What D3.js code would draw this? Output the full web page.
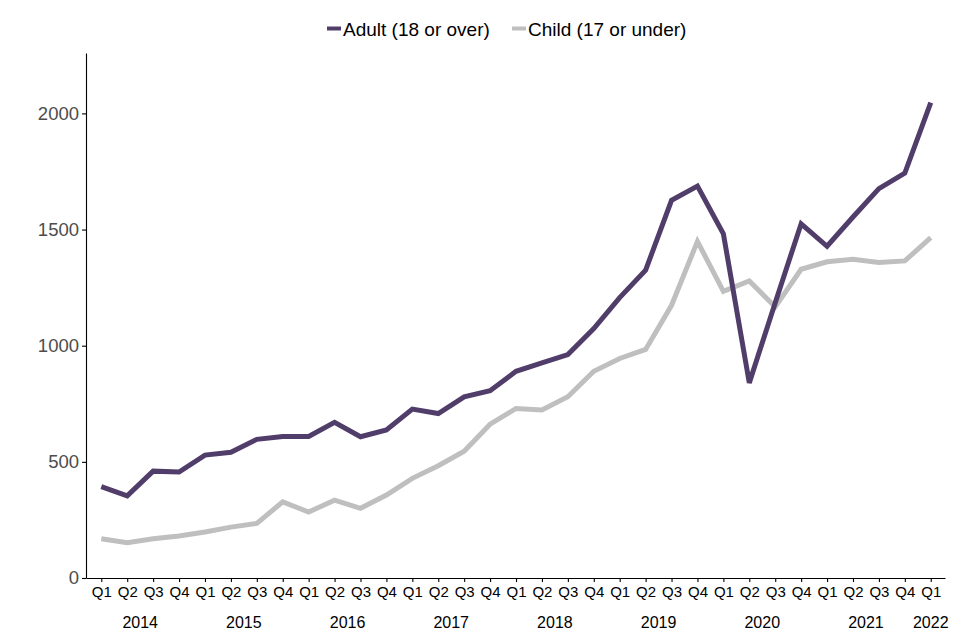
<!DOCTYPE html>
<html>
<head>
<meta charset="utf-8">
<script src="https://cdn.jsdelivr.net/npm/d3@7"></script>
<style>
  body { margin: 0; background: #fff; }
  svg { font-family: "Liberation Sans", Arial, sans-serif; }
</style>
</head>
<body>
<svg id="chart" width="960" height="640"></svg>
<script>
// quarters Q1 2014 .. Q1 2022
var quarters = ["Q1","Q2","Q3","Q4","Q1","Q2","Q3","Q4","Q1","Q2","Q3","Q4",
                "Q1","Q2","Q3","Q4","Q1","Q2","Q3","Q4","Q1","Q2","Q3","Q4",
                "Q1","Q2","Q3","Q4","Q1","Q2","Q3","Q4","Q1"];
var years = ["2014","2015","2016","2017","2018","2019","2020","2021","2022"];

var adult = [393, 354, 460, 456, 529, 541, 597, 609, 609, 670, 608, 637,
             727, 708, 780, 806, 890, 926, 962, 1074, 1207, 1325, 1626, 1687,
             1482, 840, 1185, 1525, 1428, 1554, 1676, 1743, 2046];
var child = [169, 152, 169, 181, 198, 219, 235, 328, 284, 335, 300, 357,
             429, 483, 546, 662, 730, 723, 780, 890, 945, 984, 1174, 1449,
             1234, 1279, 1167, 1329, 1361, 1372, 1358, 1365, 1465];

var yTicks = [0, 500, 1000, 1500, 2000];

var svg = d3.select("#chart");

var x = d3.scaleLinear().domain([-0.59, 32.55]).range([86, 945]);
var y = d3.scaleLinear().domain([0, 2260]).range([578, 53]);

// y axis
var yAxis = svg.append("g")
    .attr("transform", "translate(86,0)")
    .call(d3.axisLeft(y).tickValues(yTicks).tickFormat(d3.format("d"))
        .tickSize(4).tickSizeOuter(0).tickPadding(3));
yAxis.selectAll("text").attr("font-size", 18.5).attr("fill", "#4d4d4d")
    .style("font-family", "'Liberation Sans', Arial, sans-serif");
yAxis.selectAll("line, path").attr("stroke", "#000").attr("stroke-width", 1.1);

// x axis
var xAxis = svg.append("g")
    .attr("transform", "translate(0,578)")
    .call(d3.axisBottom(x).tickValues(d3.range(quarters.length))
        .tickFormat(function (d) { return quarters[d]; })
        .tickSize(4).tickSizeOuter(0).tickPadding(4));
xAxis.selectAll("text").attr("font-size", 15).attr("fill", "#000")
    .style("font-family", "'Liberation Sans', Arial, sans-serif");
xAxis.selectAll("line, path").attr("stroke", "#000").attr("stroke-width", 1.1);

// year labels, centred under their four quarters
svg.append("g").selectAll("text")
    .data(years)
    .join("text")
    .attr("x", function (d, i) {
        var first = i * 4, last = Math.min(i * 4 + 3, quarters.length - 1);
        return (x(first) + x(last)) / 2;
    })
    .attr("y", 628)
    .attr("text-anchor", "middle")
    .attr("font-size", 16)
    .attr("fill", "#000")
    .text(function (d) { return d; });

var line = d3.line()
    .x(function (d, i) { return x(i); })
    .y(function (d) { return y(d); });

svg.append("path").datum(child)
    .attr("d", line).attr("fill", "none")
    .attr("stroke", "#bfbfbf").attr("stroke-width", 5)
    .attr("stroke-linejoin", "miter");

svg.append("path").datum(adult)
    .attr("d", line).attr("fill", "none")
    .attr("stroke", "#503d6a").attr("stroke-width", 5)
    .attr("stroke-linejoin", "miter");

// legend
var legend = [
    { name: "Adult (18 or over)", color: "#503d6a", x: 327 },
    { name: "Child (17 or under)", color: "#bfbfbf", x: 512 }
];
var lg = svg.append("g").selectAll("g").data(legend).join("g")
    .attr("transform", function (d) { return "translate(" + d.x + ",0)"; });
lg.append("line")
    .attr("x1", 0).attr("x2", 14).attr("y1", 28.5).attr("y2", 28.5)
    .attr("stroke", function (d) { return d.color; }).attr("stroke-width", 4);
lg.append("text")
    .attr("x", 16).attr("y", 36)
    .attr("font-size", 19)
    .attr("fill", "#000")
    .text(function (d) { return d.name; });
</script>
</body>
</html>
